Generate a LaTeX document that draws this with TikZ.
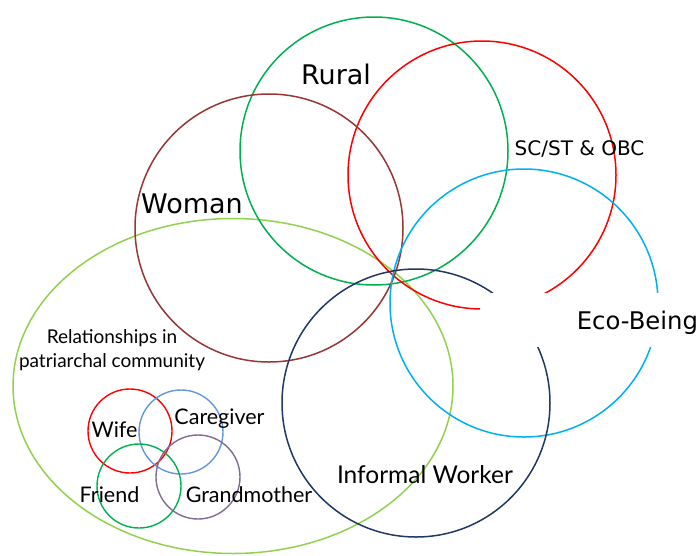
\documentclass[tikz,border=0pt]{standalone}
\usepackage{fontspec}
\setmainfont{DejaVu Sans}
\newfontfamily\latofont{Lato}
\usetikzlibrary{shapes.geometric}

\definecolor{ruralgreen}{RGB}{0,176,80}
\definecolor{casteRed}{RGB}{255,0,0}
\definecolor{womanBrown}{RGB}{149,55,53}
\definecolor{ecoCyan}{RGB}{0,176,240}
\definecolor{workerNavy}{RGB}{32,56,100}
\definecolor{relLime}{RGB}{146,208,80}
\definecolor{careBlue}{RGB}{100,150,220}
\definecolor{grandPurple}{RGB}{128,106,150}

\begin{document}
\begin{tikzpicture}[
			x=1pt,y=-1pt,
			bigring/.style={
				circle,
				draw=#1,
				line width=1.5pt,
				inner sep=0pt,
				minimum size=268pt
			},
			smallring/.style={
				circle,
				draw=#1,
				line width=1.4pt,
				inner sep=0pt,
				minimum size=84pt
			},
			biglabel/.style={
				anchor=base,
				inner sep=0pt,
				font=\fontsize{27}{31}\selectfont
			},
			midlabel/.style={
				anchor=base,
				inner sep=0pt,
				font=\fontsize{20}{24}\selectfont
			},
			smalllabel/.style={
				anchor=base,
				inner sep=0pt,
				font=\latofont\fontsize{21.5}{25}\selectfont
			}
			]
			\useasboundingbox (0,0) rectangle (699,555);
			% outer community ellipse
			\node[ellipse, draw=relLime, line width=1.5pt, inner sep=0pt,
				minimum width=440pt, minimum height=335pt] (community) at (233,386) {};
			% identity circles
			\node[bigring=ruralgreen] (rural) at (374,151) {};
			\node[bigring=casteRed] (caste) at (482,175) {};
			\node[bigring=womanBrown] (woman) at (269,228) {};
			\node[bigring=ecoCyan] (eco) at (524,303) {};
			\node[bigring=workerNavy] (worker) at (416,403) {};
			% relationship circles
			\node[smallring=casteRed] (wife) at (130,431) {};
			\node[smallring=careBlue] (carer) at (181,432) {};
			\node[smallring=ruralgreen] (friend) at (139,486) {};
			\node[smallring=grandPurple] (grandma) at (198,477) {};
			% labels
			\node[biglabel] (ruraltxt) at (336,84) {Rural};
			\node[biglabel] (womantxt) at (192,213) {Woman};
			\node[midlabel] (castetxt) at (579.5,155) {SC/ST \& OBC};
			\node[fill=white, minimum width=219pt, minimum height=54pt,
				text width=217pt, text depth=0pt, align=right, inner sep=0pt,
				font=\fontsize{24.3}{29}\selectfont] (ecotxt) at (589.5,320) {Eco-Being};
			\node[smalllabel, font=\latofont\fontsize{24.5}{28}\selectfont] (workertxt) at (425,483) {Informal Worker};
			\node[align=center, inner sep=0pt, font=\latofont\fontsize{19}{24}\selectfont] (commtxt) at (112,350) {Relationships in\\patriarchal community};
			\node[smalllabel] (wifetxt) at (114.5,437) {Wife};
			\node[smalllabel] (carertxt) at (219.5,424) {Caregiver};
			\node[smalllabel] (friendtxt) at (109.5,502) {Friend};
			\node[smalllabel] (grandmatxt) at (249,502) {Grandmother};
		\end{tikzpicture}
\end{document}
